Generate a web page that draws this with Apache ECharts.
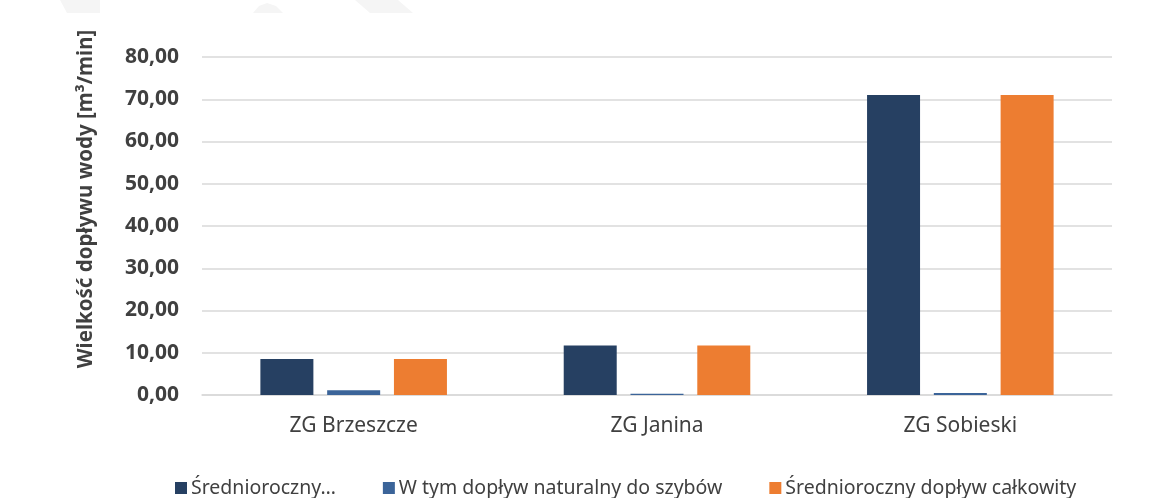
<!DOCTYPE html>
<html>
<head>
<meta charset="utf-8">
<script src="https://cdn.jsdelivr.net/npm/echarts@6/dist/echarts.min.js"></script>
<style>html,body{margin:0;padding:0;background:#fff}#c{width:1174px;height:498px}</style>
</head>
<body>
<div id="c"></div>
<script>
const categories = ['ZG Brzeszcze', 'ZG Janina', 'ZG Sobieski'];
const seriesNames = ['Średnioroczny…', 'W tym dopływ naturalny do szybów', 'Średnioroczny dopływ całkowity'];
const avgInflow = [8.5, 11.7, 71.0];
const naturalInflow = [1.1, 0.3, 0.5];
const totalInflow = [8.5, 11.7, 71.0];
const yTicks = { min: 0, max: 80, interval: 10 };
const yTitle = 'Wielkość dopływu wody [m³/min]';

const FONT = "'Noto Sans', sans-serif";
const colors = ['#264062', '#3B6499', '#ED7D31'];
const chart = echarts.init(document.getElementById('c'));
const values = [avgInflow, naturalInflow, totalInflow];
const wm = '#f5f5f5';
chart.setOption({
  animation: false,
  grid: { left: 202, right: 62, top: 57, bottom: 103, containLabel: false },
  legend: {
    left: 175, top: 478, padding: 0, itemWidth: 12, itemHeight: 12, itemGap: 47,
    icon: 'rect',
    textStyle: { fontFamily: FONT, fontSize: 19.5, color: '#404040', padding: [0, 0, 0, -1] },
    data: seriesNames
  },
  xAxis: {
    type: 'category', data: categories,
    axisLine: { lineStyle: { color: '#d9d9d9', width: 1.5 } },
    axisTick: { show: false },
    axisLabel: { fontFamily: FONT, fontSize: 21, color: '#404040', margin: 21 }
  },
  yAxis: {
    type: 'value', min: yTicks.min, max: yTicks.max, interval: yTicks.interval,
    axisLine: { show: false }, axisTick: { show: false },
    splitLine: { lineStyle: { color: '#d9d9d9', width: 1.5 } },
    axisLabel: {
      fontFamily: FONT, fontSize: 21, fontWeight: 'bold', color: '#404040', margin: 23,
      formatter: v => v.toFixed(2).replace('.', ',')
    }
  },
  graphic: [
    { type: 'polygon', silent: true, shape: { points: [[60, 0], [100, 0], [100, 13], [67, 13]] }, style: { fill: wm } },
    { type: 'polygon', silent: true, shape: { points: [[253, 13], [259, 6], [267, 3], [276, 6], [283, 13]] }, style: { fill: wm } },
    { type: 'polygon', silent: true, shape: { points: [[355, 0], [398, 0], [413, 13], [370, 13]] }, style: { fill: wm } },
    {
      type: 'text', x: 86, y: 199, rotation: Math.PI / 2,
      style: { text: yTitle, fontFamily: FONT, fontSize: 20.5, fontWeight: 'bold', fill: '#404040', align: 'center', verticalAlign: 'middle' }
    }
  ],
  series: seriesNames.map((n, i) => ({
    name: n, type: 'bar', data: values[i], barWidth: 53, barGap: '26%',
    itemStyle: { color: colors[i] }
  }))
});
</script>
</body>
</html>
